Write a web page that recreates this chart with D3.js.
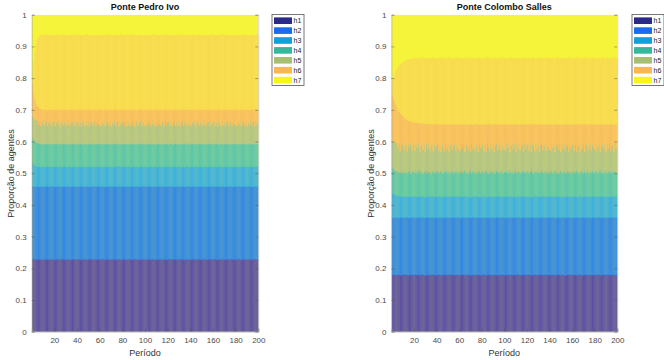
<!DOCTYPE html>
<html><head><meta charset="utf-8">
<script src="https://cdn.jsdelivr.net/npm/d3@7"></script>
<style>
html,body{margin:0;padding:0;background:#fff;}
svg{display:block;font-family:"Liberation Sans",Arial,sans-serif;}
</style></head>
<body><svg id="c" width="664" height="360"></svg>
<script>
// ---- DATA: cumulative proportion (top of each layer h1..h7) per period 1..200 ----
const periods = d3.range(1, 201);
const seriesKeys = ["h1","h2","h3","h4","h5","h6","h7"];
const xTicks = [20,40,60,80,100,120,140,160,180,200];
const yTicks = [0,0.1,0.2,0.3,0.4,0.5,0.6,0.7,0.8,0.9,1];
const titles = ["Ponte Pedro Ivo","Ponte Colombo Salles"];

// Ponte Pedro Ivo
const pi_c1 = [.228,.229,.228,.227,.228,.228,.229,.228,.227,.228,.228,.229,.228,.228,.227,.228,.229,.228,.228,.227,
.228,.228,.229,.228,.227,.228,.229,.228,.228,.227,.228,.228,.229,.227,.228,.228,.229,.228,.227,.228,
.228,.229,.228,.227,.228,.228,.229,.228,.227,.228,.228,.229,.228,.228,.227,.228,.229,.228,.228,.227,
.228,.228,.229,.228,.227,.228,.229,.228,.228,.227,.228,.228,.229,.227,.228,.228,.229,.228,.227,.228,
.228,.229,.228,.227,.228,.228,.229,.228,.227,.228,.228,.229,.228,.228,.227,.228,.229,.228,.228,.227,
.228,.228,.229,.228,.227,.228,.229,.228,.228,.227,.228,.228,.229,.227,.228,.228,.229,.228,.227,.228,
.228,.229,.228,.227,.228,.228,.229,.228,.227,.228,.228,.229,.228,.228,.227,.228,.229,.228,.228,.227,
.228,.228,.229,.228,.227,.228,.229,.228,.228,.227,.228,.228,.229,.227,.228,.228,.229,.228,.227,.228,
.228,.229,.228,.227,.228,.228,.229,.228,.227,.228,.228,.229,.228,.228,.227,.228,.229,.228,.228,.227,
.228,.228,.229,.228,.227,.228,.229,.228,.228,.227,.228,.228,.229,.227,.228,.228,.229,.228,.227,.228];
const pi_c2 = [.458,.457,.458,.459,.458,.458,.457,.458,.459,.458,.457,.458,.458,.459,.458,.457,.458,.458,.459,.458,
.457,.458,.459,.458,.458,.457,.458,.458,.459,.457,.458,.459,.458,.458,.457,.458,.459,.458,.457,.458,
.458,.457,.458,.459,.458,.458,.457,.458,.459,.458,.457,.458,.458,.459,.458,.457,.458,.458,.459,.458,
.457,.458,.459,.458,.458,.457,.458,.458,.459,.457,.458,.459,.458,.458,.457,.458,.459,.458,.457,.458,
.458,.457,.458,.459,.458,.458,.457,.458,.459,.458,.457,.458,.458,.459,.458,.457,.458,.458,.459,.458,
.457,.458,.459,.458,.458,.457,.458,.458,.459,.457,.458,.459,.458,.458,.457,.458,.459,.458,.457,.458,
.458,.457,.458,.459,.458,.458,.457,.458,.459,.458,.457,.458,.458,.459,.458,.457,.458,.458,.459,.458,
.457,.458,.459,.458,.458,.457,.458,.458,.459,.457,.458,.459,.458,.458,.457,.458,.459,.458,.457,.458,
.458,.457,.458,.459,.458,.458,.457,.458,.459,.458,.457,.458,.458,.459,.458,.457,.458,.458,.459,.458,
.457,.458,.459,.458,.458,.457,.458,.458,.459,.457,.458,.459,.458,.458,.457,.458,.459,.458,.457,.458];
const pi_c3 = [.529,.526,.524,.522,.521,.520,.521,.519,.520,.521,.520,.519,.520,.521,.520,.520,.519,.521,.520,.520,
.520,.521,.519,.520,.522,.520,.519,.520,.521,.520,.518,.520,.521,.520,.519,.520,.521,.522,.520,.519,
.521,.520,.520,.519,.521,.522,.520,.519,.520,.521,.520,.519,.521,.520,.518,.520,.521,.520,.519,.520,
.520,.521,.519,.520,.522,.520,.519,.520,.521,.520,.518,.520,.521,.520,.519,.520,.521,.522,.520,.519,
.521,.520,.520,.519,.521,.522,.520,.519,.520,.521,.520,.519,.521,.520,.518,.520,.521,.520,.519,.520,
.520,.521,.519,.520,.522,.520,.519,.520,.521,.520,.518,.520,.521,.520,.519,.520,.521,.522,.520,.519,
.521,.520,.520,.519,.521,.522,.520,.519,.520,.521,.520,.519,.521,.520,.518,.520,.521,.520,.519,.520,
.520,.521,.519,.520,.522,.520,.519,.520,.521,.520,.518,.520,.521,.520,.519,.520,.521,.522,.520,.519,
.521,.520,.520,.519,.521,.522,.520,.519,.520,.521,.520,.519,.521,.520,.518,.520,.521,.520,.519,.520,
.520,.521,.519,.520,.522,.520,.519,.520,.521,.520,.518,.520,.521,.520,.519,.520,.521,.522,.520,.519];
const pi_c4 = [.610,.604,.600,.597,.595,.594,.593,.592,.593,.591,.592,.593,.592,.591,.592,.593,.592,.592,.591,.593,
.592,.593,.591,.592,.594,.592,.591,.593,.592,.590,.592,.593,.592,.591,.592,.594,.592,.591,.593,.592,
.591,.592,.593,.592,.590,.592,.594,.592,.591,.592,.593,.591,.592,.592,.594,.591,.592,.593,.592,.591,
.592,.593,.591,.592,.594,.592,.591,.593,.592,.590,.592,.593,.592,.591,.592,.594,.592,.591,.593,.592,
.591,.592,.593,.592,.590,.592,.594,.592,.591,.592,.593,.591,.592,.592,.594,.591,.592,.593,.592,.591,
.592,.593,.591,.592,.594,.592,.591,.593,.592,.590,.592,.593,.592,.591,.592,.594,.592,.591,.593,.592,
.591,.592,.593,.592,.590,.592,.594,.592,.591,.592,.593,.591,.592,.592,.594,.591,.592,.593,.592,.591,
.592,.593,.591,.592,.594,.592,.591,.593,.592,.590,.592,.593,.592,.591,.592,.594,.592,.591,.593,.592,
.591,.592,.593,.592,.590,.592,.594,.592,.591,.592,.593,.591,.592,.592,.594,.591,.592,.593,.592,.591,
.592,.593,.591,.592,.594,.592,.591,.593,.592,.590,.592,.593,.592,.591,.592,.594,.592,.591,.593,.592];
const pi_c5 = [.678,.672,.669,.667,.666,.652,.664,.649,.660,.666,.651,.657,.665,.648,.662,.655,.666,.650,.659,.664,
.649,.663,.655,.666,.648,.658,.665,.651,.661,.647,.664,.653,.666,.650,.659,.662,.648,.665,.654,.660,
.665,.650,.661,.648,.666,.656,.649,.664,.652,.663,.647,.660,.665,.651,.658,.666,.649,.662,.655,.650,
.649,.663,.655,.666,.648,.658,.665,.651,.661,.647,.664,.653,.666,.650,.659,.662,.648,.665,.654,.660,
.665,.650,.661,.648,.666,.656,.649,.664,.652,.663,.647,.660,.665,.651,.658,.666,.649,.662,.655,.650,
.649,.663,.655,.666,.648,.658,.665,.651,.661,.647,.664,.653,.666,.650,.659,.662,.648,.665,.654,.660,
.665,.650,.661,.648,.666,.656,.649,.664,.652,.663,.647,.660,.665,.651,.658,.666,.649,.662,.655,.650,
.649,.663,.655,.666,.648,.658,.665,.651,.661,.647,.664,.653,.666,.650,.659,.662,.648,.665,.654,.660,
.665,.650,.661,.648,.666,.656,.649,.664,.652,.663,.647,.660,.665,.651,.658,.666,.649,.662,.655,.650,
.649,.663,.655,.666,.648,.658,.665,.651,.661,.647,.664,.653,.666,.650,.659,.662,.648,.665,.654,.660];
const pi_c6 = [.778,.752,.735,.722,.714,.709,.705,.703,.702,.701,.700,.701,.700,.699,.700,.701,.700,.700,.699,.701,
.700,.701,.699,.700,.702,.700,.699,.701,.700,.700,.701,.699,.700,.702,.700,.699,.700,.701,.700,.699,
.701,.700,.700,.699,.701,.702,.700,.699,.700,.701,.700,.700,.699,.701,.700,.702,.700,.699,.701,.700,
.700,.701,.699,.700,.702,.700,.699,.701,.700,.700,.701,.699,.700,.702,.700,.699,.700,.701,.700,.699,
.701,.700,.700,.699,.701,.702,.700,.699,.700,.701,.700,.700,.699,.701,.700,.702,.700,.699,.701,.700,
.700,.701,.699,.700,.702,.700,.699,.701,.700,.700,.701,.699,.700,.702,.700,.699,.700,.701,.700,.699,
.701,.700,.700,.699,.701,.702,.700,.699,.700,.701,.700,.700,.699,.701,.700,.702,.700,.699,.701,.700,
.700,.701,.699,.700,.702,.700,.699,.701,.700,.700,.701,.699,.700,.702,.700,.699,.700,.701,.700,.699,
.701,.700,.700,.699,.701,.702,.700,.699,.700,.701,.700,.700,.699,.701,.700,.702,.700,.699,.701,.700,
.700,.701,.699,.700,.702,.700,.699,.701,.700,.700,.701,.699,.700,.702,.700,.699,.700,.701,.700,.699];
const pi_c7 = [.800,.850,.880,.905,.918,.926,.931,.934,.935,.936,.934,.935,.937,.935,.934,.936,.935,.933,.935,.936,
.935,.934,.936,.935,.933,.935,.937,.935,.934,.936,.935,.935,.933,.936,.935,.934,.936,.935,.937,.934,
.934,.936,.935,.933,.935,.936,.934,.935,.937,.935,.934,.935,.936,.933,.935,.936,.935,.934,.935,.936,
.935,.934,.936,.935,.933,.935,.937,.935,.934,.936,.935,.935,.933,.936,.935,.934,.936,.935,.937,.934,
.934,.936,.935,.933,.935,.936,.934,.935,.937,.935,.934,.935,.936,.933,.935,.936,.935,.934,.935,.936,
.935,.934,.936,.935,.933,.935,.937,.935,.934,.936,.935,.935,.933,.936,.935,.934,.936,.935,.937,.934,
.934,.936,.935,.933,.935,.936,.934,.935,.937,.935,.934,.935,.936,.933,.935,.936,.935,.934,.935,.936,
.935,.934,.936,.935,.933,.935,.937,.935,.934,.936,.935,.935,.933,.936,.935,.934,.936,.935,.937,.934,
.934,.936,.935,.933,.935,.936,.934,.935,.937,.935,.934,.935,.936,.933,.935,.936,.935,.934,.935,.936,
.935,.934,.936,.935,.933,.935,.937,.935,.934,.936,.935,.935,.933,.936,.935,.934,.936,.935,.937,.934];

// Ponte Colombo Salles
const cs_c1 = [.179,.180,.179,.178,.179,.179,.180,.179,.178,.179,.179,.180,.179,.179,.178,.179,.180,.179,.179,.178,
.179,.179,.180,.179,.178,.179,.180,.179,.179,.178,.179,.179,.180,.178,.179,.179,.180,.179,.178,.179,
.179,.180,.179,.178,.179,.179,.180,.179,.178,.179,.179,.180,.179,.179,.178,.179,.180,.179,.179,.178,
.179,.179,.180,.179,.178,.179,.180,.179,.179,.178,.179,.179,.180,.178,.179,.179,.180,.179,.178,.179,
.179,.180,.179,.178,.179,.179,.180,.179,.178,.179,.179,.180,.179,.179,.178,.179,.180,.179,.179,.178,
.179,.179,.180,.179,.178,.179,.180,.179,.179,.178,.179,.179,.180,.178,.179,.179,.180,.179,.178,.179,
.179,.180,.179,.178,.179,.179,.180,.179,.178,.179,.179,.180,.179,.179,.178,.179,.180,.179,.179,.178,
.179,.179,.180,.179,.178,.179,.180,.179,.179,.178,.179,.179,.180,.178,.179,.179,.180,.179,.178,.179,
.179,.180,.179,.178,.179,.179,.180,.179,.178,.179,.179,.180,.179,.179,.178,.179,.180,.179,.179,.178,
.179,.179,.180,.179,.178,.179,.180,.179,.179,.178,.179,.179,.180,.178,.179,.179,.180,.179,.178,.179];
const cs_c2 = [.360,.359,.360,.361,.360,.360,.359,.360,.361,.360,.359,.360,.360,.361,.360,.359,.360,.360,.361,.360,
.359,.360,.361,.360,.360,.359,.360,.360,.361,.359,.360,.361,.360,.360,.359,.360,.361,.360,.359,.360,
.360,.359,.360,.361,.360,.360,.359,.360,.361,.360,.359,.360,.360,.361,.360,.359,.360,.360,.361,.360,
.359,.360,.361,.360,.360,.359,.360,.360,.361,.359,.360,.361,.360,.360,.359,.360,.361,.360,.359,.360,
.360,.359,.360,.361,.360,.360,.359,.360,.361,.360,.359,.360,.360,.361,.360,.359,.360,.360,.361,.360,
.359,.360,.361,.360,.360,.359,.360,.360,.361,.359,.360,.361,.360,.360,.359,.360,.361,.360,.359,.360,
.360,.359,.360,.361,.360,.360,.359,.360,.361,.360,.359,.360,.360,.361,.360,.359,.360,.360,.361,.360,
.359,.360,.361,.360,.360,.359,.360,.360,.361,.359,.360,.361,.360,.360,.359,.360,.361,.360,.359,.360,
.360,.359,.360,.361,.360,.360,.359,.360,.361,.360,.359,.360,.360,.361,.360,.359,.360,.360,.361,.360,
.359,.360,.361,.360,.360,.359,.360,.360,.361,.359,.360,.361,.360,.360,.359,.360,.361,.360,.359,.360];
const cs_c3 = [.437,.434,.432,.430,.429,.428,.427,.426,.427,.425,.426,.427,.426,.425,.426,.427,.426,.426,.425,.427,
.426,.427,.425,.426,.428,.426,.425,.427,.426,.424,.426,.427,.426,.425,.426,.428,.426,.425,.427,.426,
.425,.426,.427,.426,.424,.426,.428,.426,.425,.426,.427,.425,.426,.426,.428,.425,.426,.427,.426,.425,
.426,.427,.425,.426,.428,.426,.425,.427,.426,.424,.426,.427,.426,.425,.426,.428,.426,.425,.427,.426,
.425,.426,.427,.426,.424,.426,.428,.426,.425,.426,.427,.425,.426,.426,.428,.425,.426,.427,.426,.425,
.426,.427,.425,.426,.428,.426,.425,.427,.426,.424,.426,.427,.426,.425,.426,.428,.426,.425,.427,.426,
.425,.426,.427,.426,.424,.426,.428,.426,.425,.426,.427,.425,.426,.426,.428,.425,.426,.427,.426,.425,
.426,.427,.425,.426,.428,.426,.425,.427,.426,.424,.426,.427,.426,.425,.426,.428,.426,.425,.427,.426,
.425,.426,.427,.426,.424,.426,.428,.426,.425,.426,.427,.425,.426,.426,.428,.425,.426,.427,.426,.425,
.426,.427,.425,.426,.428,.426,.425,.427,.426,.424,.426,.427,.426,.425,.426,.428,.426,.425,.427,.426];
const cs_c4 = [.516,.512,.509,.507,.505,.504,.503,.501,.508,.499,.506,.502,.509,.500,.505,.508,.498,.504,.507,.501,
.503,.508,.499,.505,.510,.501,.506,.498,.504,.509,.500,.507,.502,.505,.499,.508,.503,.506,.500,.504,
.507,.500,.504,.509,.502,.498,.506,.503,.508,.501,.505,.499,.509,.504,.500,.506,.502,.508,.499,.505,
.503,.508,.499,.505,.510,.501,.506,.498,.504,.509,.500,.507,.502,.505,.499,.508,.503,.506,.500,.504,
.507,.500,.504,.509,.502,.498,.506,.503,.508,.501,.505,.499,.509,.504,.500,.506,.502,.508,.499,.505,
.503,.508,.499,.505,.510,.501,.506,.498,.504,.509,.500,.507,.502,.505,.499,.508,.503,.506,.500,.504,
.507,.500,.504,.509,.502,.498,.506,.503,.508,.501,.505,.499,.509,.504,.500,.506,.502,.508,.499,.505,
.503,.508,.499,.505,.510,.501,.506,.498,.504,.509,.500,.507,.502,.505,.499,.508,.503,.506,.500,.504,
.507,.500,.504,.509,.502,.498,.506,.503,.508,.501,.505,.499,.509,.504,.500,.506,.502,.508,.499,.505,
.503,.508,.499,.505,.510,.501,.506,.498,.504,.509,.500,.507,.502,.505,.499,.508,.503,.506,.500,.504];
const cs_c5 = [.600,.598,.597,.596,.595,.578,.593,.570,.588,.595,.574,.585,.594,.568,.590,.581,.595,.572,.587,.592,
.570,.591,.580,.595,.567,.586,.594,.575,.589,.566,.593,.578,.595,.571,.584,.590,.568,.594,.579,.588,
.594,.572,.589,.567,.595,.583,.569,.592,.576,.591,.566,.587,.594,.573,.585,.595,.570,.590,.581,.574,
.570,.591,.580,.595,.567,.586,.594,.575,.589,.566,.593,.578,.595,.571,.584,.590,.568,.594,.579,.588,
.594,.572,.589,.567,.595,.583,.569,.592,.576,.591,.566,.587,.594,.573,.585,.595,.570,.590,.581,.574,
.570,.591,.580,.595,.567,.586,.594,.575,.589,.566,.593,.578,.595,.571,.584,.590,.568,.594,.579,.588,
.594,.572,.589,.567,.595,.583,.569,.592,.576,.591,.566,.587,.594,.573,.585,.595,.570,.590,.581,.574,
.570,.591,.580,.595,.567,.586,.594,.575,.589,.566,.593,.578,.595,.571,.584,.590,.568,.594,.579,.588,
.594,.572,.589,.567,.595,.583,.569,.592,.576,.591,.566,.587,.594,.573,.585,.595,.570,.590,.581,.574,
.570,.591,.580,.595,.567,.586,.594,.575,.589,.566,.593,.578,.595,.571,.584,.590,.568,.594,.579,.588];
const cs_c6 = [.745,.735,.725,.716,.708,.701,.695,.690,.685,.681,.677,.674,.671,.669,.667,.665,.664,.663,.662,.661,
.660,.659,.659,.658,.658,.657,.657,.656,.656,.656,.655,.656,.655,.654,.656,.655,.655,.654,.656,.655,
.655,.654,.656,.655,.653,.655,.656,.654,.655,.655,.654,.656,.655,.653,.655,.654,.656,.655,.654,.655,
.654,.655,.653,.655,.654,.656,.654,.653,.655,.654,.655,.653,.654,.655,.656,.654,.653,.655,.654,.653,
.655,.654,.656,.655,.653,.655,.656,.654,.655,.655,.654,.656,.655,.653,.655,.654,.656,.655,.654,.655,
.654,.655,.653,.655,.654,.656,.654,.653,.655,.654,.655,.653,.654,.655,.656,.654,.653,.655,.654,.653,
.655,.654,.656,.655,.653,.655,.656,.654,.655,.655,.654,.656,.655,.653,.655,.654,.656,.655,.654,.655,
.654,.655,.653,.655,.654,.656,.654,.653,.655,.654,.655,.653,.654,.655,.656,.654,.653,.655,.654,.653,
.655,.654,.656,.655,.653,.655,.656,.654,.655,.655,.654,.656,.655,.653,.655,.654,.656,.655,.654,.655,
.654,.655,.653,.655,.654,.656,.654,.653,.655,.654,.655,.653,.654,.655,.656,.654,.653,.655,.654,.653];
const cs_c7 = [.790,.802,.812,.820,.827,.833,.838,.842,.846,.849,.851,.853,.855,.856,.857,.858,.859,.860,.861,.861,
.862,.860,.863,.861,.859,.862,.864,.861,.860,.863,.862,.858,.861,.863,.860,.862,.864,.861,.859,.862,
.861,.863,.860,.862,.865,.861,.859,.862,.863,.860,.864,.862,.861,.859,.863,.862,.860,.864,.861,.863,
.862,.860,.863,.861,.859,.862,.864,.861,.860,.863,.862,.858,.861,.863,.860,.862,.864,.861,.859,.862,
.861,.863,.860,.862,.865,.861,.859,.862,.863,.860,.864,.862,.861,.859,.863,.862,.860,.864,.861,.863,
.862,.860,.863,.861,.859,.862,.864,.861,.860,.863,.862,.858,.861,.863,.860,.862,.864,.861,.859,.862,
.861,.863,.860,.862,.865,.861,.859,.862,.863,.860,.864,.862,.861,.859,.863,.862,.860,.864,.861,.863,
.862,.860,.863,.861,.859,.862,.864,.861,.860,.863,.862,.858,.861,.863,.860,.862,.864,.861,.859,.862,
.861,.863,.860,.862,.865,.861,.859,.862,.863,.860,.864,.862,.861,.859,.863,.862,.860,.864,.861,.863,
.862,.860,.863,.861,.859,.862,.864,.861,.860,.863,.862,.858,.861,.863,.860,.862,.864,.861,.859,.862];

// ---- STYLE ----
const bandColors = ["#5a4ea3","#2f87e3","#3bafdd","#5bc5a8","#b3c482","#f8be5d","#f8db4c"];
const restColor = "#f5f43a";
const legendColors = ["#2c2a88","#1a6de6","#12a0d8","#35b89c","#a6bf72","#fbb84a","#f8f614"];

const svg = d3.select("#c");

function drawChart(cfg) {
  const cum = cfg.cum;
  // per-period share of each group (difference of consecutive cumulative levels)
  const table = periods.map((p, i) => {
    const row = {period: p};
    seriesKeys.forEach((k, j) => { row[k] = cum[j][i] - (j ? cum[j-1][i] : 0); });
    return row;
  });
  const stacked = d3.stack().keys(seriesKeys)(table);

  const x = d3.scaleLinear().domain([0, 200]).range([cfg.x0, cfg.x1]);
  const y = d3.scaleLinear().domain([0, 1]).range([331.7, 14.7]);
  const g = svg.append("g");
  const clipId = "clip" + cfg.id;
  g.append("clipPath").attr("id", clipId).append("rect")
    .attr("x", x(0)).attr("y", y(1)).attr("width", x(200) - x(0)).attr("height", y(0) - y(1));

  const plot = g.append("g").attr("clip-path", `url(#${clipId})`);
  plot.append("rect").attr("x", x(0)).attr("y", y(1))
    .attr("width", x(200) - x(0)).attr("height", y(0) - y(1)).attr("fill", restColor);

  const bw = x(1) - x(0);
  stacked.forEach((layer, li) => {
    plot.append("g").attr("fill", bandColors[li])
      .attr("stroke", bandColors[li]).attr("stroke-width", 0.35)
      .selectAll("rect").data(layer).join("rect")
      .attr("x", d => x(d.data.period - 0.5))
      .attr("width", bw)
      .attr("y", d => y(d[1]))
      .attr("height", d => y(d[0]) - y(d[1]));
  });
  // bar edges (light vertical stripes)
  plot.append("g").selectAll("line").data(periods).join("line")
    .attr("x1", d => x(d - 0.5)).attr("x2", d => x(d - 0.5))
    .attr("y1", y(0)).attr("y2", (d, i) => y(cum[6][i]))
    .attr("stroke", "#ffffff").attr("stroke-opacity", 0.14).attr("stroke-width", 0.35);

  // axes
  const tickCol = "#4a4a4a";
  const yAxis = d3.axisLeft(y).tickValues(yTicks).tickSize(-3).tickPadding(5)
    .tickFormat(d => d === 0 || d === 1 ? d3.format("d")(d) : d3.format(".1f")(d));
  const ya = g.append("g").attr("transform", `translate(${x(0)},0)`).call(yAxis);
  ya.select(".domain").attr("stroke", "#999").attr("stroke-opacity", 0.5);
  ya.selectAll(".tick line").attr("stroke", "#555").attr("stroke-opacity", 0.5);
  ya.selectAll("text").attr("fill", tickCol).style("font-size", "8px")
    .style("font-family", "'Liberation Sans', Arial, sans-serif");
  const yr = g.append("g").attr("transform", `translate(${x(200)},0)`)
    .call(d3.axisRight(y).tickValues(yTicks).tickSize(-3).tickFormat(""));
  yr.select(".domain").attr("stroke", "#999").attr("stroke-opacity", 0.4);
  yr.selectAll(".tick line").attr("stroke", "#555").attr("stroke-opacity", 0.5);

  const xAxis = d3.axisBottom(x).tickValues(xTicks).tickSize(-3).tickPadding(6).tickFormat(d3.format("d"));
  const xa = g.append("g").attr("transform", `translate(0,${y(0)})`).call(xAxis);
  xa.select(".domain").attr("stroke", "#999").attr("stroke-opacity", 0.5);
  xa.selectAll(".tick line").attr("stroke", "#555").attr("stroke-opacity", 0.5);
  xa.selectAll("text").attr("fill", tickCol).style("font-size", "8px")
    .style("font-family", "'Liberation Sans', Arial, sans-serif");

  // title and labels
  const cx = (x(0) + x(200)) / 2;
  g.append("text").attr("x", cx).attr("y", 10).attr("text-anchor", "middle")
    .style("font-size", "9px").style("font-weight", "bold").attr("fill", "#111").text(cfg.title);
  g.append("text").attr("x", cx).attr("y", 356).attr("text-anchor", "middle")
    .style("font-size", "9px").attr("fill", "#333").text("Período");
  g.append("text").attr("transform", `translate(${cfg.ylx},173.5) rotate(-90)`)
    .attr("text-anchor", "middle").style("font-size", "9px").attr("fill", "#333")
    .text("Proporção de agentes");

  // legend
  const lg = g.append("g").attr("transform", `translate(${cfg.lx},14)`);
  lg.append("rect").attr("x", 0.5).attr("y", 0.5).attr("width", 32).attr("height", 71)
    .attr("fill", "#fff").attr("stroke", "#555").attr("stroke-width", 0.8);
  seriesKeys.forEach((k, i) => {
    const cy = 6.7 + i * 9.9;
    lg.append("rect").attr("x", 2.5).attr("y", cy - 3.3).attr("width", 18).attr("height", 6.6)
      .attr("fill", legendColors[i]);
    lg.append("text").attr("x", 22).attr("y", cy + 2.5).style("font-size", "7px")
      .attr("fill", "#222").text(k);
  });
}

drawChart({id: "pi", title: titles[0], x0: 31.7, x1: 258.3, ylx: 13.5, lx: 271.5,
  cum: [pi_c1, pi_c2, pi_c3, pi_c4, pi_c5, pi_c6, pi_c7]});
drawChart({id: "cs", title: titles[1], x0: 391.4, x1: 617.3, ylx: 374, lx: 631.5,
  cum: [cs_c1, cs_c2, cs_c3, cs_c4, cs_c5, cs_c6, cs_c7]});
</script>
</body></html>
